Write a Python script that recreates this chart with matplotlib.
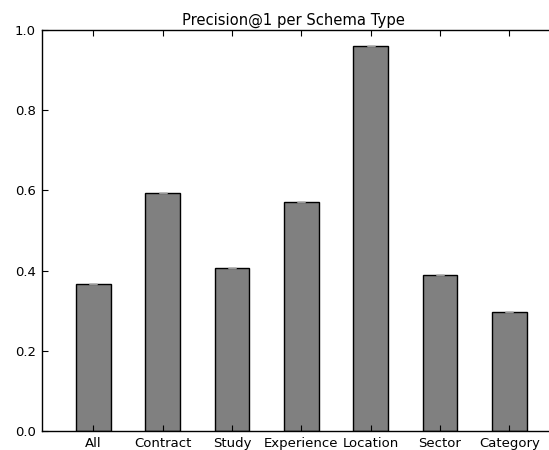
import matplotlib
matplotlib.use("Agg")
import matplotlib.pyplot as plt
import numpy as np

categories = ["All", "Contract", "Study", "Experience", "Location", "Sector", "Category"]
precision = [0.366, 0.594, 0.406, 0.571, 0.960, 0.389, 0.297]
errors = [0.0, 0.0, 0.0, 0.0, 0.0, 0.0, 0.0]
y_ticks = [0.0, 0.2, 0.4, 0.6, 0.8, 1.0]

fig = plt.figure(figsize=(5.49, 4.5), dpi=100, facecolor="white")
ax_width = 1.01
ax = fig.add_axes([0.0756, 0.0422, ax_width, 0.8911])

x = np.arange(len(categories))
ax.bar(x, precision, width=0.5, color="0.5", edgecolor="black", linewidth=1.0,
       yerr=errors, ecolor="0.6", capsize=3, error_kw=dict(elinewidth=1, capthick=1))

ax.set_xlim(-0.75, 7.25)
ax.set_ylim(0, 1.0)
ax.set_xticks(x)
ax.set_xticklabels(categories, fontsize=9.5)
ax.set_yticks(y_ticks)
ax.set_yticklabels([f"{v:.1f}" for v in y_ticks], fontsize=9.5)
ax.tick_params(direction="in", top=True, right=True, length=4, width=0.8, pad=4)
for s in ax.spines.values():
    s.set_linewidth(1.0)
    s.set_color("black")

# title centred over the visible part of the axes
ax.set_title("Precision@1 per Schema Type", fontsize=10.6,
             x=(293.5 - 41.5) / (ax_width * 549), pad=4)

fig.savefig("out.png", dpi=100, facecolor="white")
